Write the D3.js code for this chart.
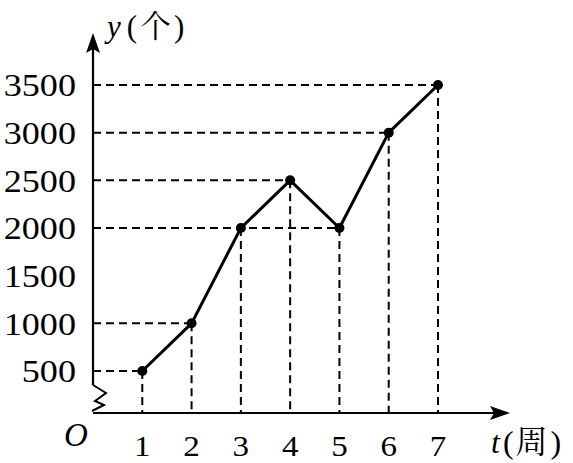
<!DOCTYPE html>
<html><head><meta charset="utf-8">
<script src="https://cdn.jsdelivr.net/npm/d3@7"></script>
<style>body{margin:0;background:#fff}svg{display:block}</style>
</head><body>
<script>
const weeks = [1,2,3,4,5,6,7];
const counts = [500,1000,2000,2500,2000,3000,3500];
const yTicks = [500,1000,1500,2000,2500,3000,3500];

const W=573,H=463;
const svg=d3.select("body").append("svg").attr("width",W).attr("height",H);
const ox=93, oy=413;
const x=d3.scaleLinear().domain([0,7]).range([ox,438]);
const y=d3.scaleLinear().domain([500,3500]).range([371,85]);
const font="'Liberation Serif','Times New Roman',serif";
const cjk="'Noto Serif CJK SC','Noto Sans CJK SC',serif";

// dashed guides
const g=svg.append("g");
weeks.forEach((w,i)=>{
  g.append("line").attr("x1",ox).attr("x2",x(w)).attr("y1",y(counts[i])).attr("y2",y(counts[i]))
   .attr("stroke","#000").attr("stroke-width",2).attr("stroke-dasharray","8,5");
  g.append("line").attr("x1",x(w)).attr("x2",x(w)).attr("y1",y(counts[i])).attr("y2",oy)
   .attr("stroke","#000").attr("stroke-width",2).attr("stroke-dasharray","8,5");
});

// axes
svg.append("path").attr("d",`M${ox},${oy} L500,${oy}`).attr("stroke","#000").attr("stroke-width",2.2).attr("fill","none");
svg.append("path").attr("d",`M510,${oy} L490,${oy-7} L494,${oy} L490,${oy+7} Z`).attr("fill","#000");
svg.append("path").attr("d",`M${ox},385 L${ox},45`).attr("stroke","#000").attr("stroke-width",2.2).attr("fill","none");
svg.append("path").attr("d",`M${ox},33 L${ox-7},53 L${ox},49 L${ox+7},53 Z`).attr("fill","#000");
// break zigzag
svg.append("path").attr("d",`M${ox},385 L106,393 L95,401 L104,405 L92,411`).attr("stroke","#000").attr("stroke-width",2).attr("fill","none");

// y tick labels (slightly wide serif digits)
svg.selectAll(".yt").data(yTicks).enter().append("text")
  .attr("transform",d=>`translate(76,${y(d)}) scale(1.13,1)`)
  .attr("dy","0.35em").attr("text-anchor","end")
  .attr("font-family",font).attr("font-size",32)
  .text(d=>d);
// x tick labels
svg.selectAll(".xt").data(weeks).enter().append("text")
  .attr("transform",d=>`translate(${x(d)},456) scale(1.1,1)`).attr("text-anchor","middle")
  .attr("font-family",font).attr("font-size",30).text(d=>d);
svg.append("text").attr("x",76).attr("y",446).attr("text-anchor","middle")
  .attr("font-family",font).attr("font-size",33).attr("font-style","italic").text("O");

// axis labels
const yl=svg.append("text").attr("x",107).attr("y",37).attr("font-family",font).attr("font-size",31);
yl.append("tspan").attr("font-style","italic").text("y");
yl.append("tspan").attr("dx",6).text("(");
yl.append("tspan").attr("dx",3).attr("font-family",cjk).attr("font-size",31).text("个");
yl.append("tspan").attr("dx",3).text(")");
const xl=svg.append("text").attr("x",491).attr("y",453).attr("font-family",font).attr("font-size",32);
xl.append("tspan").attr("font-style","italic").text("t");
xl.append("tspan").attr("dx",3).text("(");
xl.append("tspan").attr("dx",2).attr("font-family",cjk).attr("font-size",32).text("周");
xl.append("tspan").attr("dx",3).text(")");

// data line
const line=d3.line().x((d,i)=>x(weeks[i])).y(d=>y(d));
svg.append("path").datum(counts).attr("d",line).attr("fill","none").attr("stroke","#000").attr("stroke-width",3).attr("stroke-linejoin","round");
svg.selectAll(".pt").data(counts).enter().append("circle")
  .attr("cx",(d,i)=>x(weeks[i])).attr("cy",d=>y(d)).attr("r",5).attr("fill","#000");
</script>
</body></html>
